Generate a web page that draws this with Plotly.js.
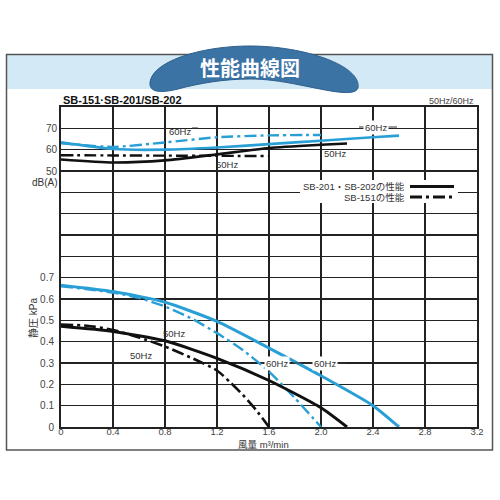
<!DOCTYPE html>
<html><head><meta charset="utf-8">
<script src="https://cdn.plot.ly/plotly-3.0.1.min.js"></script>
<style>html,body{margin:0;padding:0;background:#fff}</style>
</head><body><div id="chart" style="width:500px;height:500px"></div>
<script>
// ---- data ----
const flowTicks = [0,0.4,0.8,1.2,1.6,2.0,2.4,2.8,3.2];
const flowTickText = ['0','0.4','0.8','1.2','1.6','2.0','2.4','2.8','3.2'];
const pressureGrid = [0,0.1,0.2,0.3,0.4,0.5,0.6,0.7,0.8,0.9,1.0,1.1,1.2,1.3,1.4,1.5];
const pressureTickText = ['0','0.1','0.2','0.3','0.4','0.5','0.6','0.7','','','','','','','',''];
const dbTicks = [50,60,70];
const dbTickText = ['50','60','70'];

// static pressure (kPa)
const flowP201_60 = [0,0.4,0.8,1.2,1.6,2.0,2.4,2.6];
const pres201_60  = [0.665,0.635,0.585,0.495,0.37,0.24,0.10,0];
const flowP151_60 = [0,0.4,0.6,0.8,1.0,1.2,1.4,1.6,1.8,2.0];
const pres151_60  = [0.66,0.63,0.605,0.565,0.51,0.44,0.36,0.26,0.135,0];
const flowP201_50 = [0,0.4,0.8,1.2,1.6,2.0,2.2];
const pres201_50  = [0.472,0.448,0.404,0.322,0.218,0.09,0];
const flowP151_50 = [0,0.2,0.4,0.6,0.8,1.0,1.2,1.3,1.4,1.5,1.6];
const pres151_50  = [0.48,0.475,0.455,0.42,0.377,0.325,0.265,0.21,0.15,0.08,0];

// noise dB(A)
const flowD201_60 = [0,0.4,0.8,1.2,1.6,2.0,2.4,2.6];
const db201_60    = [63.4,60.3,60,61,62.6,64.2,65.8,66.6];
const flowD151_60 = [0,0.4,0.8,1.2,1.6,2.0];
const db151_60    = [63,61.3,63.4,65.8,66.7,66.9];
const flowD201_50 = [0,0.4,0.8,1.2,1.6,2.0,2.2];
const db201_50    = [55.4,54,55,57.8,60.8,62.3,62.9];
const flowD151_50 = [0,0.4,0.8,1.2,1.6];
const db151_50    = [57.4,57.3,57.2,57.1,57];

// ---- layout helpers ----
const W=500,H=500,L=61,R=23,T=107,B=73;
const pw=W-L-R, ph=H-T-B;
const px=X=>(X-L)/pw, py=Y=>(H-B-Y)/ph;
const BLUE='#2a9fd6', BLACK='#111';
const DASHDOT='12px,4px,3px,4px';
const FONT='Liberation Sans, Arial, Noto Sans CJK JP, sans-serif';

function tr(x,y,color,dash,axis,w){
  return {x:x,y:y,type:'scatter',mode:'lines',yaxis:axis,hoverinfo:'skip',
    line:{color:color,width:w,dash:dash,shape:'spline',smoothing:0.6}};
}
const traces=[
  tr(flowD201_60,db201_60,BLUE,'solid','y2',2.6),
  tr(flowD151_60,db151_60,BLUE,DASHDOT,'y2',2.4),
  tr(flowD201_50,db201_50,BLACK,'solid','y2',2.6),
  tr(flowD151_50,db151_50,BLACK,DASHDOT,'y2',2.4),
  tr(flowP201_60,pres201_60,BLUE,'solid','y',3),
  tr(flowP151_60,pres151_60,BLUE,DASHDOT,'y',2.4),
  tr(flowP201_50,pres201_50,BLACK,'solid','y',3),
  tr(flowP151_50,pres151_50,BLACK,DASHDOT,'y',2.6)
];

function P(pts){ // pixel path -> paper path
  return pts.map(p=>typeof p==='string'?p:(px(p[0]).toFixed(4)+','+py(p[1]).toFixed(4))).join(' ');
}
const bannerPath = P(['M',[150,84],'C',[150,62],[200,46],[250,46],'C',[305,46],[362,66],[358,88],
  'C',[355,97],[330,91],[300,85],'C',[280,81],[265,79],[250,79],'C',[225,79],[200,83],[178,89],
  'C',[158,94],[150,91],[150,84],'Z']);

function line(x0,y0,x1,y1,color,w,dash){
  return {type:'line',xref:'paper',yref:'paper',x0:px(x0),y0:py(y0),x1:px(x1),y1:py(y1),
    line:{color:color,width:w,dash:dash||'solid'}};
}
const shapes=[
  {type:'rect',xref:'paper',yref:'paper',x0:px(7),x1:px(492),y0:py(89),y1:py(55),
    fillcolor:'#d3eaf6',line:{width:0},layer:'below'},
  {type:'rect',xref:'paper',yref:'paper',x0:px(6.5),x1:px(492.5),y0:py(450),y1:py(54.5),
    fillcolor:'rgba(0,0,0,0)',line:{color:'#555',width:1.5},layer:'below'},
  {type:'path',xref:'paper',yref:'paper',path:bannerPath,fillcolor:'#3b73a5',
    line:{color:'#2d5f8c',width:1}},
  {type:'rect',xref:'paper',yref:'paper',x0:px(300),x1:px(458),y0:py(203),y1:py(180),
    fillcolor:'#fff',line:{width:0}},
  line(410,186.5,454,186.5,BLACK,3),
  line(410,197,454,197,BLACK,3,DASHDOT),
  line(262,363,346,363,'#333',1),
  line(192,128,198,128,'#333',1),
  line(359,127,397,127,'#333',1)
];

function ann(X,Y,text,opt){
  return Object.assign({xref:'paper',yref:'paper',x:px(X),y:py(Y),text:text,showarrow:false,
    xanchor:'center',yanchor:'middle',font:{family:FONT,size:9.5,color:'#333'}},opt||{});
}
const annotations=[
  ann(250,67,'<b>性能曲線図</b>',{font:{family:'Noto Sans CJK JP',size:20,color:'#fff'}}),
  ann(61,100,'<b>SB-151·SB-201/SB-202</b>',{xanchor:'left',font:{family:FONT,size:11,color:'#111'}}),
  ann(476,101,'50Hz/60Hz',{xanchor:'right',font:{family:FONT,size:9,color:'#444'}}),
  ann(45,182,'dB(A)',{font:{family:FONT,size:10,color:'#333'}}),
  ann(33,318,'静圧 kPa',{textangle:-90,font:{family:FONT,size:10,color:'#333'}}),
  ann(263,444,'風量 m³/min',{font:{family:FONT,size:9.5,color:'#333'}}),
  ann(180,131,'60Hz'),
  ann(376,127,'60Hz',{bgcolor:'#fff'}),
  ann(227,164,'50Hz'),
  ann(335,153.5,'50Hz'),
  ann(174,333,'50Hz'),
  ann(141,355,'50Hz'),
  ann(277,363.5,'60Hz',{bgcolor:'#fff'}),
  ann(325,363,'60Hz',{bgcolor:'#fff'}),
  ann(407,186,'SB-201・SB-202の性能',{xanchor:'right',font:{family:FONT,size:9.5,color:'#333'}}),
  ann(407,197,'SB-151の性能',{xanchor:'right',font:{family:FONT,size:9.5,color:'#333'}})
];

const layout={
  width:W,height:H,margin:{l:L,r:R,t:T,b:B,pad:0},
  paper_bgcolor:'#fff',plot_bgcolor:'rgba(0,0,0,0)',showlegend:false,
  font:{family:FONT,size:10,color:'#444'},
  xaxis:{range:[0,3.2],tickvals:flowTicks,ticktext:flowTickText,showgrid:true,gridcolor:'#222',gridwidth:2,
    zeroline:false,showline:true,mirror:true,linecolor:'#222',linewidth:2,ticks:'',ticklabelstandoff:-5,
    tickfont:{family:FONT,size:9.5,color:'#444'},fixedrange:true,layer:'below traces'},
  yaxis:{range:[0,1.5],tickvals:pressureGrid,ticktext:pressureTickText,showgrid:true,gridcolor:'#222',gridwidth:1.6,
    zeroline:false,showline:true,mirror:true,linecolor:'#222',linewidth:2,ticks:'',ticklabelstandoff:3,
    tickfont:{family:FONT,size:10,color:'#444'},fixedrange:true},
  yaxis2:{range:[-70,80],overlaying:'y',side:'left',anchor:'x',tickvals:dbTicks,ticktext:dbTickText,showgrid:false,
    zeroline:false,showline:false,ticks:'',ticklabelstandoff:3,
    tickfont:{family:FONT,size:10,color:'#444'},fixedrange:true},
  shapes:shapes,annotations:annotations
};
Plotly.newPlot('chart',traces,layout,{staticPlot:true,displayModeBar:false});
</script></body></html>
